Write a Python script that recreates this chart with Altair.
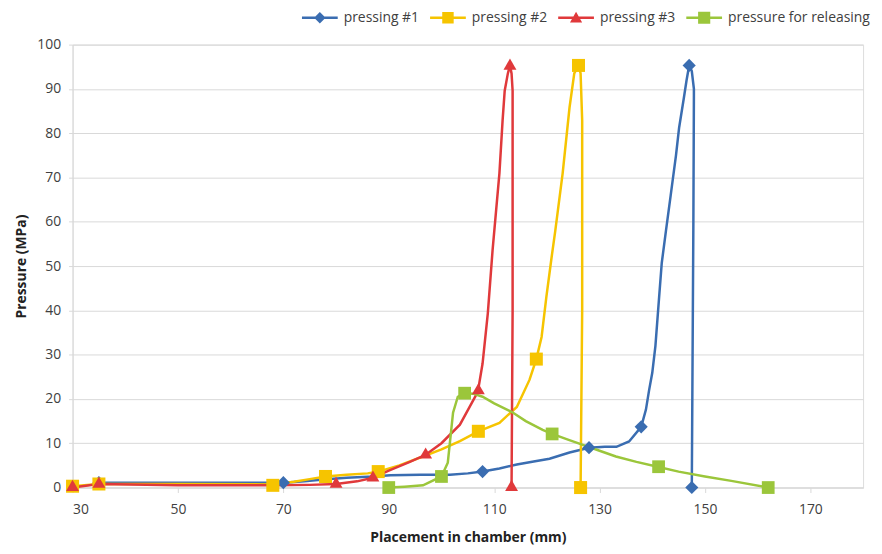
import altair as alt
import pandas as pd

SERIES = ["pressing #1", "pressing #2", "pressing #3", "pressure for releasing"]
COLORS = ["#3A6DB1", "#F6C400", "#E0393B", "#9BC63B"]

# ---- line traces ----
blue_x = [35, 50, 70, 74, 77.6, 82, 87, 90.3, 96, 101.6, 105, 107.8, 111, 114.3, 117.5, 120.5, 124.3, 128,
          131, 133.2, 135.6, 137.9, 138.8, 139.4, 140, 140.6, 141.3, 141.8, 142.6, 143.5, 144.5, 145.1,
          146, 146.5, 147, 147.5, 147.9, 147.9, 147.8, 147.5]
blue_y = [1.1, 1.1, 1.1, 1.4, 1.8, 2.2, 2.5, 2.8, 2.9, 2.9, 3.2, 3.6, 4.3, 5.2, 5.9, 6.5, 7.9, 9.0,
          9.2, 9.2, 10.4, 13.7, 17.6, 22, 25.9, 32, 43, 50.7, 58, 66, 75, 81.3,
          88, 91.9, 95.3, 94, 90, 88.5, 60, 0]

yellow_x = [30, 35, 50, 68, 72, 75, 78, 82, 86, 88, 92, 96.5, 100, 103.5, 107, 111, 114.3, 116.7, 118,
            119, 119.9, 120.9, 121.6, 123, 124.3, 125.2, 126, 126.4, 126.7, 126.7, 126.4]
yellow_y = [0.3, 0.8, 0.8, 0.7, 1.3, 1.9, 2.5, 2.9, 3.2, 3.6, 5.0, 7.0, 8.6, 10.5, 12.7, 14.6, 18.2, 24.3, 29,
            34, 43, 52, 58, 71, 85.8, 93.5, 95.3, 93.5, 82.9, 40, 0]

red_x = [30, 35, 50, 68, 75, 80, 84, 87, 90, 94, 97, 100, 103.5, 106.9, 107.8, 108.8, 109.7, 111,
         111.6, 112, 112.6, 113, 113.3, 113.5, 113.5, 113.3]
red_y = [0, 0.8, 0.5, 0.5, 0.6, 0.8, 1.4, 2.2, 3.8, 5.8, 7.4, 10, 14.2, 21.6, 28, 39.4, 53.6, 71,
         82.9, 89.6, 93.5, 95.3, 93.5, 89.6, 40, 0]

green_x = [90, 93, 96.5, 100, 101.2, 102.2, 103.1, 104.4, 106, 107.8, 110, 113.3, 116, 119.2, 121, 124,
           126.7, 130, 133.1, 137, 141, 145, 150, 155, 162]
green_y = [0, 0.2, 0.5, 2.5, 5.6, 16.9, 20.5, 21.3, 21.2, 20.5, 19, 17.1, 15, 13, 12.1, 10.8,
           9.7, 8.3, 7, 5.8, 4.7, 3.6, 2.5, 1.5, 0]

# ---- markers ----
blue_mx = [35, 70, 107.8, 128, 137.9, 147, 147.5]
blue_my = [1.1, 1.1, 3.6, 9.0, 13.7, 95.3, 0]
yellow_mx = [30, 35, 68, 78, 88, 107, 118, 126, 126.4]
yellow_my = [0.3, 0.8, 0.5, 2.5, 3.6, 12.7, 29, 95.3, 0]
red_mx = [30, 35, 80, 87, 97, 107, 113, 113.3]
red_my = [0.5, 1.2, 1.2, 2.6, 7.8, 22.3, 95.6, 0.5]
green_mx = [90, 100, 104.4, 121, 141.2, 162]
green_my = [0, 2.5, 21.3, 12.1, 4.7, 0]

lines = []
for name, xs, ys in zip(SERIES, [blue_x, yellow_x, red_x, green_x], [blue_y, yellow_y, red_y, green_y]):
    for i, (x, y) in enumerate(zip(xs, ys)):
        lines.append({"series": name, "idx": i, "x": x, "y": y})
lines_df = pd.DataFrame(lines)

marks = []
for name, xs, ys in zip(SERIES, [blue_mx, yellow_mx, red_mx, green_mx], [blue_my, yellow_my, red_my, green_my]):
    for x, y in zip(xs, ys):
        marks.append({"series": name, "x": x, "y": y})
marks_df = pd.DataFrame(marks)

FONT = "Open Sans"
x_scale = alt.Scale(domain=[30, 180], nice=False, zero=False)
y_scale = alt.Scale(domain=[0, 100], nice=False)

x_axis = alt.Axis(values=[30, 50, 70, 90, 110, 130, 150, 170], grid=False, title="Placement in chamber (mm)",
                  domainColor="#D9D9D9", tickColor="#D9D9D9", tickSize=5, labelPadding=10,
                  labelFont=FONT, labelFontSize=14, labelColor="#404040",
                  titleFont=FONT, titleFontSize=14, titleFontWeight="bold", titleColor="#222222",
                  titlePadding=14)
y_axis = alt.Axis(values=list(range(0, 101, 10)), grid=True, gridColor="#D9D9D9", title="Pressure (MPa)",
                  domainColor="#D9D9D9", tickColor="#D9D9D9", tickSize=4, labelPadding=8,
                  labelFont=FONT, labelFontSize=14, labelColor="#404040",
                  titleFont=FONT, titleFontSize=14, titleFontWeight="bold", titleColor="#222222",
                  titlePadding=8)

color_scale = alt.Scale(domain=SERIES, range=COLORS)

line_layer = alt.Chart(lines_df).mark_line(strokeWidth=2.5, interpolate="linear").encode(
    x=alt.X("x:Q", scale=x_scale, axis=x_axis),
    y=alt.Y("y:Q", scale=y_scale, axis=y_axis),
    color=alt.Color("series:N", scale=color_scale, legend=None),
    order=alt.Order("idx:Q"),
)

point_layer = alt.Chart(marks_df).mark_point(filled=True, opacity=1, strokeWidth=0).encode(
    x=alt.X("x:Q", scale=x_scale),
    y=alt.Y("y:Q", scale=y_scale),
    color=alt.Color("series:N", scale=color_scale, legend=None),
    shape=alt.Shape("series:N", scale=alt.Scale(domain=SERIES, range=["diamond", "square", "triangle-up", "square"]), legend=None),
    size=alt.Size("series:N", scale=alt.Scale(domain=SERIES, range=[175, 165, 185, 320]), legend=None),
)

LEG_PATHS = [
    "M-1,-0.07L1,-0.07L1,0.07L-1,0.07Z M0,-0.32L0.32,0L0,0.32L-0.32,0Z",
    "M-1,-0.07L1,-0.07L1,0.07L-1,0.07Z M-0.32,-0.32L0.32,-0.32L0.32,0.32L-0.32,0.32Z",
    "M-1,-0.07L1,-0.07L1,0.07L-1,0.07Z M0,-0.34L0.34,0.26L-0.34,0.26Z",
    "M-1,-0.07L1,-0.07L1,0.07L-1,0.07Z M-0.34,-0.34L0.34,-0.34L0.34,0.34L-0.34,0.34Z",
]
legend = alt.Legend(orient="none", legendX=231, legendY=-45, direction="horizontal", title=None,
                    symbolSize=1296, symbolOpacity=1, symbolStrokeWidth=0, labelFont=FONT,
                    labelFontSize=14, labelColor="#404040", labelOffset=6, columnPadding=11, padding=0)

legend_layer = alt.Chart(marks_df).mark_point(filled=True, opacity=1).encode(
    x=alt.X("x:Q", scale=x_scale),
    y=alt.Y("y:Q", scale=y_scale),
    color=alt.Color("series:N", scale=color_scale, legend=legend),
    shape=alt.Shape("series:N", scale=alt.Scale(domain=SERIES, range=LEG_PATHS), legend=legend),
).transform_filter("false")

chart = alt.layer(line_layer, point_layer, legend_layer).resolve_scale(
    color="independent", shape="independent", size="independent"
).properties(
    width=796, height=446,
    autosize=alt.AutoSizeParams(type="none"),
    padding={"left": 65, "top": 35, "right": 11, "bottom": 57},
).configure_view(stroke=None).configure(font=FONT)

chart.save("out.html", embed_options={"renderer": "svg", "actions": False})
